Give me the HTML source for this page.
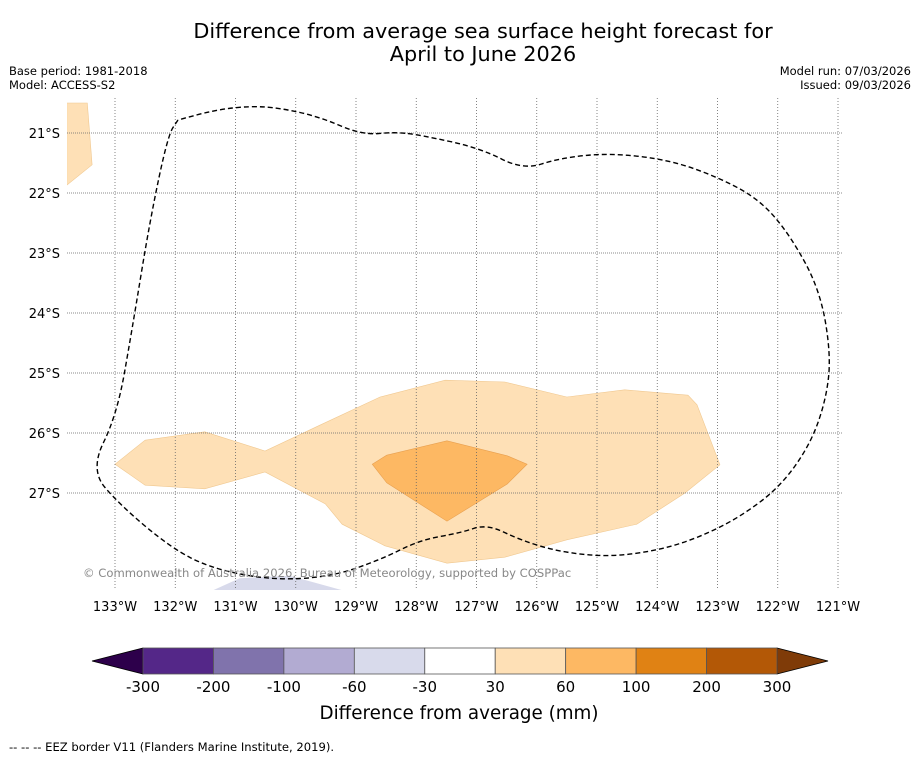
<!DOCTYPE html>
<html><head><meta charset="utf-8"><style>
body{margin:0;background:#fff;font-family:"DejaVu Sans","Liberation Sans",sans-serif;}
svg text{font-family:"DejaVu Sans","Liberation Sans",sans-serif;}
</style></head><body>
<svg id="chart" width="919" height="758" viewBox="0 0 919 758">
<text x="483" y="38" font-size="20.8" text-anchor="middle">Difference from average sea surface height forecast for</text>
<text x="483" y="61" font-size="20.8" text-anchor="middle">April to June 2026</text>
<text x="9" y="75" font-size="11.5">Base period: 1981-2018</text>
<text x="9" y="89" font-size="11.5">Model: ACCESS-S2</text>
<text x="911" y="75" font-size="11.5" text-anchor="end">Model run: 07/03/2026</text>
<text x="911" y="89" font-size="11.5" text-anchor="end">Issued: 09/03/2026</text>
<g id="map"></g>
<g id="cbar"></g>
<text x="459" y="719" font-size="18.3" text-anchor="middle">Difference from average (mm)</text>
<text x="9" y="751" font-size="11.6">--  --  -- EEZ border V11 (Flanders Marine Institute, 2019).</text>
</svg>
<script>
const lonTicks=[-133,-132,-131,-130,-129,-128,-127,-126,-125,-124,-123,-122,-121];
const latTicks=[-21,-22,-23,-24,-25,-26,-27];
const lightLon=[-133,-132.5,-131.51,-130.51,-129.6,-128.6,-127.52,-126.53,-125.5,-124.54,-123.49,-123.34,-122.96,-123.54,-124.34,-125.5,-126.53,-127.49,-128.52,-129.23,-129.51,-130.51,-131.51,-132.5];
const lightLat=[-26.52,-26.12,-25.98,-26.3,-25.87,-25.4,-25.12,-25.15,-25.4,-25.28,-25.37,-25.53,-26.53,-27.0,-27.52,-27.78,-28.07,-28.17,-27.88,-27.52,-27.18,-26.65,-26.93,-26.87];
const darkLon=[-128.73,-128.49,-127.49,-126.49,-126.16,-126.49,-127.49,-128.49];
const darkLat=[-26.52,-26.37,-26.13,-26.38,-26.52,-26.85,-27.47,-26.83];
const nwLon=[-133.8,-133.46,-133.38,-133.8];
const nwLat=[-20.5,-20.5,-21.53,-21.87];
const blueLon=[-131.37,-130.93,-130.1,-129.23];
const blueLat=[-28.62,-28.42,-28.38,-28.62];
const cbLabels=["-300","-200","-100","-60","-30","30","60","100","200","300"];
const cbColors=["#542788","#8073ac","#b2abd2","#d8daeb","#ffffff","#fee0b6","#fdb863","#e08214","#b35806"];
const NS="http://www.w3.org/2000/svg";
const X=lon=>115+(lon+133)*60.25;
const Y=lat=>133+(-lat-21)*60;
const L=67,R=843,T=98,B=590;
function mk(tag,attrs,parent){const e=document.createElementNS(NS,tag);for(const k in attrs)e.setAttribute(k,attrs[k]);parent.appendChild(e);return e;}
const map=document.getElementById('map');
const defs=mk('clipPath',{id:'clip'},map);mk('rect',{x:L,y:T,width:R-L,height:B-T},defs);
const g=mk('g',{'clip-path':'url(#clip)'},map);
function poly(lons,lats,fill,stroke,name){const p=mk('polygon',{points:lons.map((v,i)=>X(v)+','+Y(lats[i])).join(' '),fill:fill,stroke:stroke,'stroke-width':0.6},g);

}
poly(nwLon,nwLat,'#fee0b6','#f0c890','contour-30-60-nw');
poly(blueLon,blueLat,'#d8daeb','none','contour-neg30-60');
poly(lightLon,lightLat,'#fee0b6','#f0c890','contour-30-60');
poly(darkLon,darkLat,'#fdb863','#e8a050','contour-60-100');
lonTicks.forEach(v=>{const l=mk('line',{x1:X(v),x2:X(v),y1:T,y2:B,stroke:'#666','stroke-width':0.8,'stroke-dasharray':'1,2'},g);


const t=mk('text',{x:X(v),y:611,'font-size':13,'text-anchor':'middle'},map);t.textContent=Math.abs(v)+'°W';

});
latTicks.forEach(v=>{const l=mk('line',{x1:L,x2:R,y1:Y(v),y2:Y(v),stroke:'#666','stroke-width':0.8,'stroke-dasharray':'1,1'},g);


const t=mk('text',{x:60,y:Y(v)+5,'font-size':13,'text-anchor':'end'},map);t.textContent=Math.abs(v)+'°S';

});
const pts=[[178,120],[168,135],[150,220],[132,330],[117,415],[90,470],[120,505],[170,547],[210,568],[270,580],[330,577],[380,560],[420,540],[460,533],[487,524],[520,540],[560,552],[610,557],[660,550],[700,537],[740,517],[780,487],[810,445],[826,400],[831,355],[820,290],[790,235],[760,200],[720,178],[670,160],[610,153],[560,158],[523,170],[480,148],[420,135],[395,132],[362,135],[320,117],[280,108],[250,106],[215,110],[178,120]];
let d='M'+pts[0].join(',');
for(let i=1;i<pts.length;i++){const a=pts[i-1],b=pts[i];d+=' Q'+a.join(',')+' '+((a[0]+b[0])/2)+','+((a[1]+b[1])/2);}
d+=' L'+pts[pts.length-1].join(',');
const eez=mk('path',{d:d,fill:'none',stroke:'#000','stroke-width':1.4,'stroke-dasharray':'5,3'},g);


const cr=mk('text',{x:83,y:577,'font-size':11.6,fill:'#888'},map);cr.textContent='© Commonwealth of Australia 2026, Bureau of Meteorology, supported by COSPPac';


const cb=document.getElementById('cbar');
const c0=143,c1=777,cy0=648,cy1=674,n=cbColors.length,w=(c1-c0)/n;
const la=mk('polygon',{points:`${c0},${cy0} 92,661 ${c0},${cy1}`,fill:'#2d004b',stroke:'#000','stroke-width':0.8},cb);


const ra=mk('polygon',{points:`${c1},${cy0} 828,661 ${c1},${cy1}`,fill:'#7f3b08',stroke:'#000','stroke-width':0.8},cb);


cbColors.forEach((c,i)=>{const r=mk('rect',{x:c0+i*w,y:cy0,width:w,height:cy1-cy0,fill:c,stroke:'#555','stroke-width':0.8},cb);

});
cbLabels.forEach((s,i)=>{const t=mk('text',{x:c0+i*w,y:692,'font-size':15,'text-anchor':'middle'},cb);t.textContent=s;

});
</script>
</body></html>
